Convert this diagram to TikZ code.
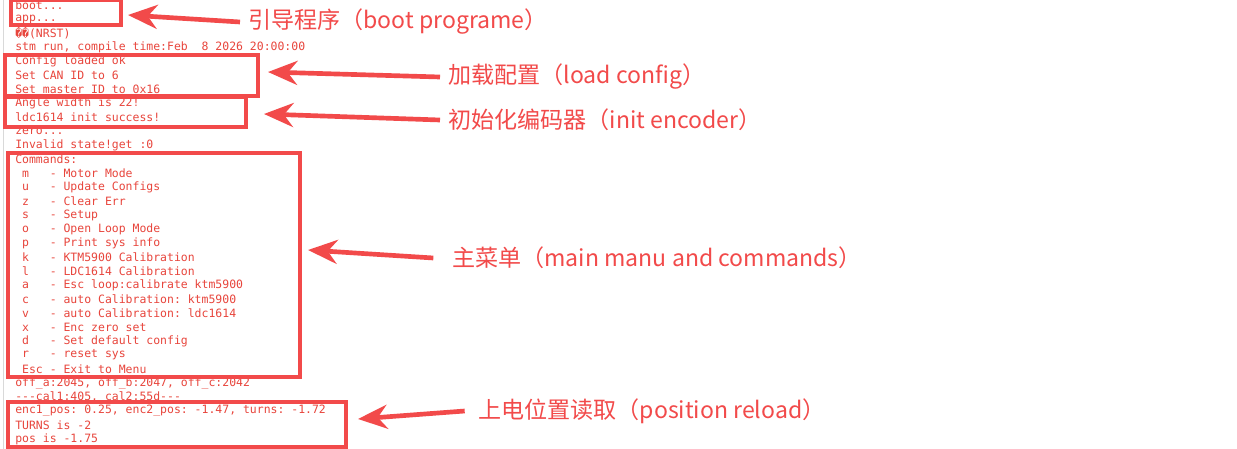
\documentclass[tikz,border=0pt]{standalone}
\usepackage{fontspec}
\setmonofont{DejaVu Sans Mono}
\newfontfamily\cjk{Noto Sans CJK SC}
\usetikzlibrary{arrows.meta}
\definecolor{logred}{HTML}{E8453C}
\definecolor{boxred}{HTML}{F24A4A}
\begin{document}
\begin{tikzpicture}[x=0.75pt,y=-0.75pt,
  line/.style={anchor=west,inner sep=0pt,font=\ttfamily\fontsize{8.6pt}{8.6pt}\selectfont,text=logred},
  box/.style={draw=boxred,line width=2.5pt},
  arr/.style={draw=boxred,line width=3.5pt,-{Stealth[length=22pt,width=18pt]}},
  lab/.style={anchor=west,inner sep=0pt,font=\cjk\fontsize{17.3pt}{17.3pt}\selectfont,text=boxred}]
\useasboundingbox[fill=white] (0,0) rectangle (1237,449);
\draw[gray!30] (3,0) -- (3,449);
\foreach \t [count=\i from 0] in {{boot.{}.{}.},{app.{}.{}.},{^^^^fffd^^^^fffd(NRST)},{stm run, compile time:Feb\ \ 8 2026 20:00:00},{Config loaded ok},{Set CAN ID to 6},{Set master ID to 0x16},{Angle width is 22!},{ldc1614 init success!},{zero.{}.{}.},{Invalid state!get :0},{Commands:},
{\ m\ \ \ - Motor Mode},{\ u\ \ \ - Update Configs},{\ z\ \ \ - Clear Err},{\ s\ \ \ - Setup},{\ o\ \ \ - Open Loop Mode},{\ p\ \ \ - Print sys info},{\ k\ \ \ - KTM5900 Calibration},{\ l\ \ \ - LDC1614 Calibration},{\ a\ \ \ - Esc loop:calibrate ktm5900},{\ c\ \ \ - auto Calibration: ktm5900},{\ v\ \ \ - auto Calibration: ldc1614},{\ x\ \ \ - Enc zero set},{\ d\ \ \ - Set default config},{\ r\ \ \ - reset sys},{\ Esc - Exit to Menu},
{off\_a:2045, off\_b:2047, off\_c:2042},{---cal1:405, cal2:55d---},{enc1\_pos: 0.25, enc2\_pos: -1.47, turns: -1.72},{TURNS is -2},{pos is -1.75}}
  \node[line] (l\i) at (15,{5+14*\i}) {\t};
\draw[box] (11,0) rectangle (121,25);
\draw[box] (5,55) rectangle (258,96);
\draw[box] (5,97) rectangle (246,127);
\draw[box] (8,153) rectangle (300,377);
\draw[box] (8,402) rectangle (346,447);
\node[lab] (t1) at (248,22) {引导程序（boot programe）};
\node[lab] (t2) at (448,77) {加载配置（load config）};
\node[lab] (t3) at (448,120) {初始化编码器（init encoder）};
\node[lab] (t4) at (452,258) {主菜单（main manu and commands）};
\node[lab] (t5) at (478,411) {上电位置读取（position reload）};
\coordinate (h1) at (128,15); \coordinate (h2) at (268,72); \coordinate (h3) at (264,114);
\coordinate (h4) at (308,250); \coordinate (h5) at (358,419);
\draw[arr] ([xshift=-6pt]t1.west) -- (h1);
\draw[arr] ([xshift=-6pt]t2.west) -- (h2);
\draw[arr] ([xshift=-6pt]t3.west) -- (h3);
\draw[arr] ([xshift=-14pt]t4.west) -- (h4);
\draw[arr] ([xshift=-10pt]t5.west) -- (h5);
\end{tikzpicture}
\end{document}
